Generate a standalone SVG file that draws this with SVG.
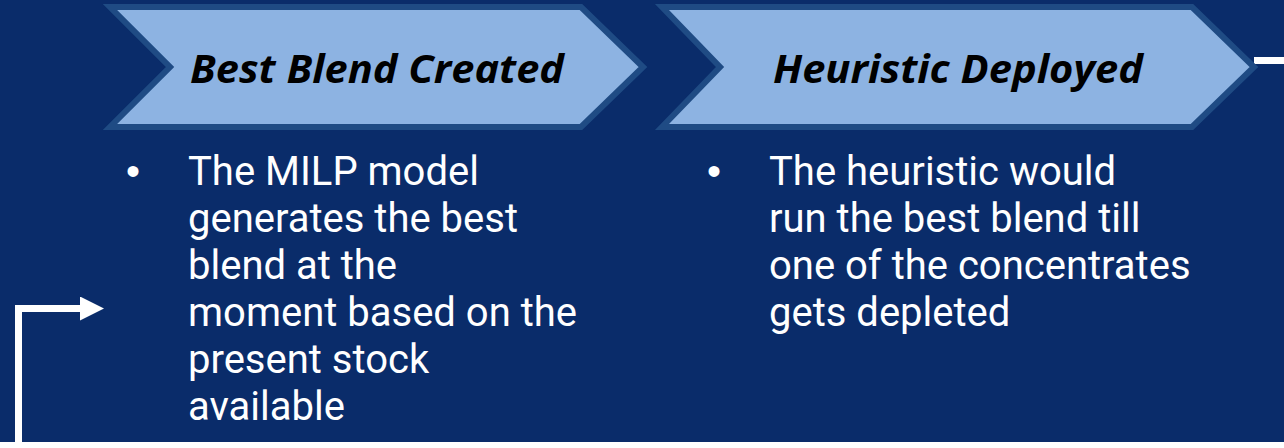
<svg xmlns="http://www.w3.org/2000/svg" width="1284" height="448" viewBox="0 0 1284 448">
  <style>
    .step { fill: #8DB3E2; stroke: #1F4B84; stroke-width: 6; stroke-linejoin: miter; }
    .title { font-family: "Open Sans", "Liberation Sans", sans-serif; font-weight: bold; font-style: italic; font-size: 39px; fill: #000000; }
    .body { font-family: Roboto, "Liberation Sans", sans-serif; font-size: 40px; fill: #FFFFFF; }
    .bullet { font-family: "Liberation Sans", sans-serif; font-size: 40px; fill: #FFFFFF; }
    .loop { fill: none; stroke: #FFFFFF; stroke-width: 7; }
  </style>
  <defs>
    <marker id="arrowHead" viewBox="0 0 10 10" refX="0" refY="5" markerWidth="25" markerHeight="24" markerUnits="userSpaceOnUse" orient="auto">
      <path d="M0,0 L10,5 L0,10 Z" fill="#FFFFFF"/>
    </marker>
  </defs>

  <rect x="0" y="0" width="1284" height="448" fill="#0A2C6A"/>

  <g id="connectors">
    <!-- feedback loop: exits the last step, runs along the bottom, returns to the first step -->
    <path class="loop" d="M1254,60.5 L1290,60.5"/>
    <path class="loop" d="M-10,445.5 L1290,445.5"/>
    <path class="loop" d="M18.5,448 L18.5,308.5 L80,308.5" marker-end="url(#arrowHead)"/>
  </g>

  <g id="step-best-blend">
    <path class="step" d="M110,7 L581,7 L643,67 L581,127 L110,127 L170,67 Z"/>
    <text class="title" x="377" y="83" text-anchor="middle" textLength="374" lengthAdjust="spacingAndGlyphs">Best Blend Created</text>
  </g>

  <g id="step-heuristic">
    <path class="step" d="M662,7 L1192,7 L1254,67 L1192,127 L662,127 L720,67 Z"/>
    <text class="title" x="958" y="83" text-anchor="middle" textLength="370" lengthAdjust="spacingAndGlyphs">Heuristic Deployed</text>
  </g>

  <g id="notes-best-blend">
    <text class="bullet" x="133" y="185" text-anchor="middle">•</text>
    <text class="body" x="188" y="185">The MILP model</text>
    <text class="body" x="188" y="232">generates the best</text>
    <text class="body" x="188" y="279">blend at the</text>
    <text class="body" x="188" y="326">moment based on the</text>
    <text class="body" x="188" y="373">present stock</text>
    <text class="body" x="188" y="420">available</text>
  </g>

  <g id="notes-heuristic">
    <text class="bullet" x="714" y="185" text-anchor="middle">•</text>
    <text class="body" x="769" y="185">The heuristic would</text>
    <text class="body" x="769" y="232">run the best blend till</text>
    <text class="body" x="769" y="279">one of the concentrates</text>
    <text class="body" x="769" y="326">gets depleted</text>
  </g>
</svg>
